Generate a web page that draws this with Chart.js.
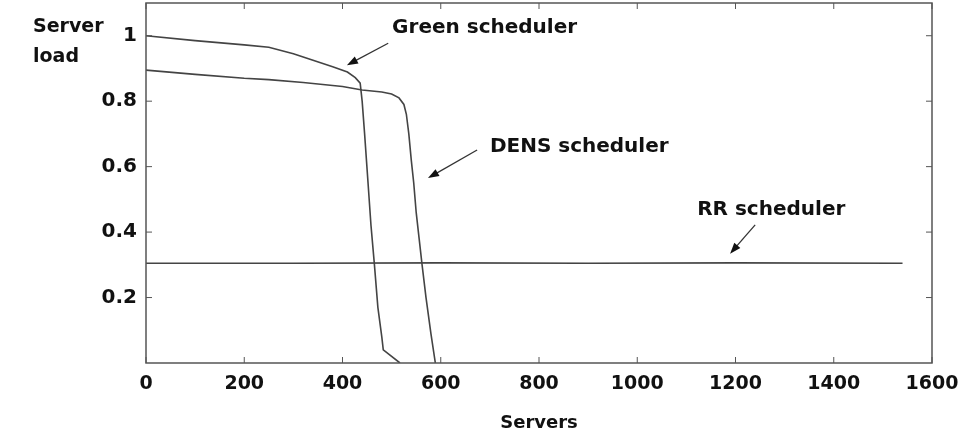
<!DOCTYPE html>
<html>
<head>
<meta charset="utf-8">
<script src="https://cdn.jsdelivr.net/npm/chart.js@4/dist/chart.umd.min.js"></script>
<style>
  body { margin: 0; background: #fff; }
</style>
</head>
<body>
<canvas id="loadChart" width="958" height="434"></canvas>
<script>
// series (servers on x, load on y)
const greenServers = [0, 100, 200, 250, 300, 340, 380, 410, 426, 436, 440, 445, 452, 458, 465, 472, 480, 483, 517];
const greenLoad = [1.0, 0.985, 0.972, 0.965, 0.945, 0.925, 0.905, 0.889, 0.872, 0.855, 0.8, 0.7, 0.55, 0.42, 0.3, 0.17, 0.08, 0.04, 0.0];

const densServers = [0, 100, 200, 250, 320, 400, 440, 480, 500, 515, 525, 530, 535, 540, 545, 550, 556, 562, 570, 580, 589];
const densLoad = [0.895, 0.882, 0.87, 0.866, 0.857, 0.845, 0.834, 0.828, 0.822, 0.81, 0.79, 0.76, 0.7, 0.62, 0.55, 0.46, 0.38, 0.3, 0.2, 0.09, 0.0];

const rrServers = [0, 300, 600, 900, 1200, 1540];
const rrLoad = [0.305, 0.305, 0.306, 0.305, 0.306, 0.305];

const xTicks = [0, 200, 400, 600, 800, 1000, 1200, 1400, 1600];
const yTicks = [0.2, 0.4, 0.6, 0.8, 1];

const labels = [
  { text: "Green scheduler", x: 501, y: 1.023, from: [493, 0.977], to: [409, 0.91] },
  { text: "DENS scheduler", x: 700, y: 0.66, from: [674, 0.651], to: [574, 0.565] },
  { text: "RR scheduler", x: 1122, y: 0.468, from: [1240, 0.422], to: [1189, 0.334] },
];

const ink = "#111";
const fontName = "'DejaVu Sans', sans-serif";

function pts(xs, ys) {
  return xs.map((x, i) => ({ x: x, y: ys[i] }));
}

function line(xs, ys, name) {
  return {
    label: name,
    data: pts(xs, ys),
    borderColor: "#444",
    borderWidth: 1.6,
    pointRadius: 0,
    tension: 0,
    fill: false,
  };
}

function arrow(ctx, x1, y1, x2, y2) {
  const a = Math.atan2(y2 - y1, x2 - x1);
  ctx.beginPath();
  ctx.moveTo(x1, y1);
  ctx.lineTo(x2 - 6 * Math.cos(a), y2 - 6 * Math.sin(a));
  ctx.stroke();
  ctx.beginPath();
  ctx.moveTo(x2, y2);
  ctx.lineTo(x2 - 11 * Math.cos(a) + 4 * Math.sin(a), y2 - 11 * Math.sin(a) - 4 * Math.cos(a));
  ctx.lineTo(x2 - 11 * Math.cos(a) - 4 * Math.sin(a), y2 - 11 * Math.sin(a) + 4 * Math.cos(a));
  ctx.closePath();
  ctx.fill();
}

const decorations = {
  id: "decorations",
  afterDraw(chart) {
    const ctx = chart.ctx;
    const area = chart.chartArea;
    const xs = chart.scales.x;
    const ys = chart.scales.y;
    ctx.save();
    ctx.strokeStyle = "#555";
    ctx.lineWidth = 1.5;
    ctx.strokeRect(area.left, area.top, area.right - area.left, area.bottom - area.top);

    // inward ticks on all four sides
    ctx.lineWidth = 1;
    ctx.beginPath();
    xTicks.forEach(v => {
      const px = xs.getPixelForValue(v);
      ctx.moveTo(px, area.bottom);
      ctx.lineTo(px, area.bottom - 6);
      ctx.moveTo(px, area.top);
      ctx.lineTo(px, area.top + 6);
    });
    yTicks.forEach(v => {
      const py = ys.getPixelForValue(v);
      ctx.moveTo(area.left, py);
      ctx.lineTo(area.left + 6, py);
      ctx.moveTo(area.right, py);
      ctx.lineTo(area.right - 6, py);
    });
    ctx.stroke();

    ctx.fillStyle = ink;
    ctx.font = "bold 19px " + fontName;
    ctx.textBaseline = "middle";
    ctx.textAlign = "left";
    ctx.fillText("Server", 33, 27);
    ctx.fillText("load", 33, 57);

    ctx.font = "bold 20px " + fontName;
    ctx.strokeStyle = "#333";
    ctx.lineWidth = 1.3;
    labels.forEach(l => {
      ctx.fillText(l.text, xs.getPixelForValue(l.x), ys.getPixelForValue(l.y));
      arrow(ctx,
        xs.getPixelForValue(l.from[0]), ys.getPixelForValue(l.from[1]),
        xs.getPixelForValue(l.to[0]), ys.getPixelForValue(l.to[1]));
    });
    ctx.restore();
  },
};

new Chart(document.getElementById("loadChart"), {
  type: "line",
  data: {
    datasets: [
      line(greenServers, greenLoad, "Green scheduler"),
      line(densServers, densLoad, "DENS scheduler"),
      line(rrServers, rrLoad, "RR scheduler"),
    ],
  },
  options: {
    responsive: false,
    animation: false,
    layout: { padding: { top: 3, right: 26, left: 0, bottom: 0 } },
    plugins: {
      legend: { display: false },
      tooltip: { enabled: false },
    },
    scales: {
      x: {
        type: "linear",
        min: 0,
        max: 1600,
        afterBuildTicks(scale) {
          scale.ticks = xTicks.map(v => ({ value: v }));
        },
        afterFit(scale) {
          scale.height = 71;
          scale.paddingLeft = 0;
          scale.paddingRight = 0;
        },
        grid: { display: false },
        border: { display: false },
        ticks: {
          color: ink,
          font: { family: fontName, size: 19, weight: "bold" },
          padding: 2,
          maxRotation: 0,
          callback: v => String(v),
        },
        title: {
          display: true,
          text: "Servers",
          color: ink,
          font: { family: fontName, size: 18, weight: "bold" },
          padding: { top: 6, bottom: 0 },
        },
      },
      y: {
        min: 0,
        max: 1.1,
        afterBuildTicks(scale) {
          scale.ticks = yTicks.map(v => ({ value: v }));
        },
        afterFit(scale) {
          scale.width = 146;
          scale.paddingTop = 0;
          scale.paddingBottom = 0;
        },
        grid: { display: false },
        border: { display: false },
        ticks: {
          color: ink,
          font: { family: fontName, size: 20, weight: "bold" },
          padding: 1,
          callback: v => String(Math.round(v * 10) / 10),
        },
      },
    },
  },
  plugins: [decorations],
});
</script>
</body>
</html>
